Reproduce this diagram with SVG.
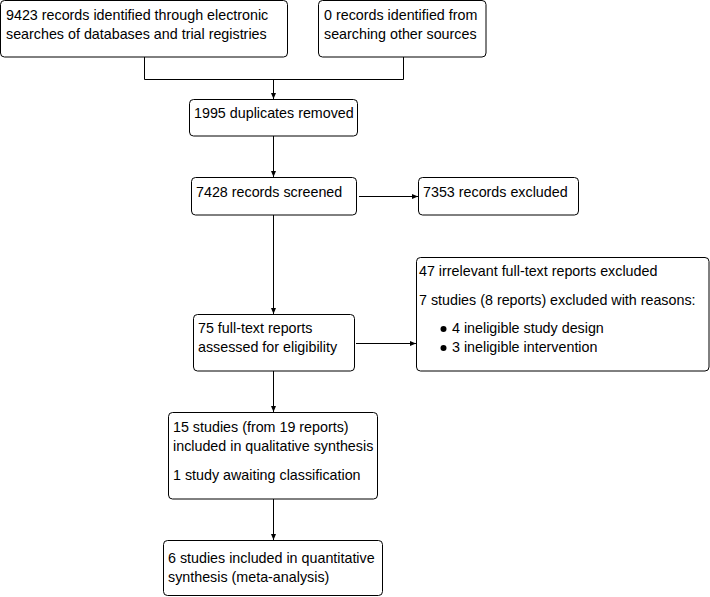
<svg xmlns="http://www.w3.org/2000/svg" width="710" height="597" viewBox="0 0 710 597">
<style>
.box{fill:#fff;stroke:#000;stroke-width:1}
.t{font-family:"Liberation Sans",Arial,sans-serif;font-size:14.3px;fill:#000}
.c{fill:none;stroke:#000;stroke-width:1}
</style>
<defs>
<marker id="ah" viewBox="0 0 6 6" refX="6" refY="3" markerWidth="6" markerHeight="6" markerUnits="userSpaceOnUse" orient="auto">
<path d="M0,0.5 L6,3 L0,5.5 Z" fill="#000"/>
</marker>
</defs>
<rect width="710" height="597" fill="#fff"/>
<g id="connectors">
<path class="c" d="M144.5,57 V79.5 H403.5 V57"/>
<path class="c" d="M273.5,79.5 V99" marker-end="url(#ah)"/>
<path class="c" d="M273.5,136 V177" marker-end="url(#ah)"/>
<path class="c" d="M359,196.5 H418" marker-end="url(#ah)"/>
<path class="c" d="M273.5,215 V314" marker-end="url(#ah)"/>
<path class="c" d="M356,343.5 H416" marker-end="url(#ah)"/>
<path class="c" d="M273.5,371 V412" marker-end="url(#ah)"/>
<path class="c" d="M273.5,499 V540" marker-end="url(#ah)"/>
</g>
<g id="n1">
<rect class="box" x="0.5" y="0.5" width="287" height="56.5" rx="4"/>
<text class="t" x="6" y="20">9423 records identified through electronic</text>
<text class="t" x="6" y="39">searches of databases and trial registries</text>
</g>
<g id="n2">
<rect class="box" x="318.5" y="0.5" width="167.5" height="56.5" rx="4"/>
<text class="t" x="324" y="20">0 records identified from</text>
<text class="t" x="324" y="39">searching other sources</text>
</g>
<g id="n3">
<rect class="box" x="189.5" y="99.5" width="168" height="36.5" rx="4"/>
<text class="t" x="194" y="118">1995 duplicates removed</text>
</g>
<g id="n4">
<rect class="box" x="191.5" y="177.5" width="165" height="37.5" rx="4"/>
<text class="t" x="196" y="197">7428 records screened</text>
</g>
<g id="n5">
<rect class="box" x="418.5" y="177.5" width="160" height="37.5" rx="4"/>
<text class="t" x="423" y="197">7353 records excluded</text>
</g>
<g id="n6">
<rect class="box" x="416.5" y="257.5" width="292.5" height="113.5" rx="4"/>
<text class="t" x="419" y="276">47 irrelevant full-text reports excluded</text>
<text class="t" x="419" y="305">7 studies (8 reports) excluded with reasons:</text>
<circle cx="443.5" cy="329" r="3" fill="#000"/>
<text class="t" x="452" y="333">4 ineligible study design</text>
<circle cx="443.5" cy="348" r="3" fill="#000"/>
<text class="t" x="452" y="352">3 ineligible intervention</text>
</g>
<g id="n7">
<rect class="box" x="193.5" y="314.5" width="161" height="56.5" rx="4"/>
<text class="t" x="198" y="333">75 full-text reports</text>
<text class="t" x="198" y="352">assessed for eligibility</text>
</g>
<g id="n8">
<rect class="box" x="168.5" y="412.5" width="209" height="86.5" rx="4"/>
<text class="t" x="173" y="432">15 studies (from 19 reports)</text>
<text class="t" x="173" y="451">included in qualitative synthesis</text>
<text class="t" x="173" y="480">1 study awaiting classification</text>
</g>
<g id="n9">
<rect class="box" x="163.5" y="540.5" width="219" height="55" rx="4"/>
<text class="t" x="168" y="563">6 studies included in quantitative</text>
<text class="t" x="168" y="582">synthesis (meta-analysis)</text>
</g>
</svg>
